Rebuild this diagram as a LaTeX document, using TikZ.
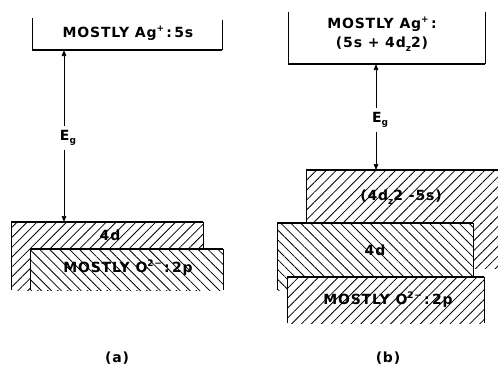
\documentclass[tikz,border=0pt]{standalone}
\usepackage{fontspec}
\setmainfont{DejaVu Sans}[LetterSpace=6]
\usetikzlibrary{patterns.meta,arrows.meta}
\newcommand{\mysup}[1]{\raisebox{0.8ex}{\fontsize{9}{10}\selectfont\bfseries #1}}
\newcommand{\mysub}[1]{\raisebox{-0.45ex}{\fontsize{9}{10}\selectfont\bfseries #1}}
\begin{document}
\begin{tikzpicture}[x=1pt,y=-1pt,
  lbl/.style={font=\fontsize{14}{19}\selectfont\bfseries, inner sep=0pt, align=center},
  toplinestyle/.style={line width=1.6pt},
  sidestyle/.style={line width=0.7pt},
  hne/.style={pattern={Lines[angle=45,distance=7pt,line width=0.8pt]}},
  hnw/.style={pattern={Lines[angle=-45,distance=7pt,line width=0.8pt]}},
  gaparrow/.style={-{Triangle[length=6pt,width=4.5pt]}, line width=0.7pt}]
\useasboundingbox (0,0) rectangle (498,368);

% ---------------- (a) ----------------
% top bracket
\draw[sidestyle] (32,18) -- (32,50);
\draw[sidestyle] (222,20) -- (222,50);
\draw[toplinestyle] (32,50) -- (222,50);
\node[lbl] (aAg) at (128,33) {MOSTLY Ag\mysup{+}\,:\,5s};
% 4d band
\fill[hne] (11,222) rectangle (203,290);
\draw[toplinestyle] (11,222) -- (203,222);
\draw[sidestyle] (11,222) -- (11,290);
\draw[sidestyle] (203,222) -- (203,249);
\node[lbl] (a4d) at (110,235) {4d};
% O 2p band
\fill[white] (30,249) rectangle (223,290);
\fill[hnw] (30,249) rectangle (223,290);
\draw[toplinestyle] (30,249) -- (223,249);
\draw[sidestyle] (30,249) -- (30,290);
\draw[sidestyle] (223,249) -- (223,290);
\node[lbl] (aO) at (128,268) {MOSTLY O\mysup{2−}\,:\,2p};
% gap arrow
\coordinate (aTop) at (64,50);
\coordinate (aBand) at (64,222);
\node[lbl, inner ysep=4pt] (aEg) at (68,138) {E\mysub{g}};
\draw[gaparrow] (aEg.north -| aTop) -- (aTop);
\draw[gaparrow] (aEg.south -| aBand) -- (aBand);
\node[lbl] (aLab) at (117,358) {(a)};

% ---------------- (b) ----------------
\draw[sidestyle] (288,12) -- (288,64);
\draw[sidestyle] (485,12) -- (485,64);
\draw[toplinestyle] (288,64) -- (485,64);
\node[lbl] (bAg) at (382,34) {MOSTLY Ag\mysup{+}\,:\\(5s + 4d\mysub{z}2)};
% upper band
\fill[hne] (306,170) rectangle (498,223);
\fill[hne] (473,223) rectangle (498,268);
\draw[toplinestyle] (306,170) -- (498,170);
\draw[sidestyle] (306,170) -- (306,223);
\node[lbl] (bUp) at (401,197) {(4d\mysub{z}2 -5s)};
% 4d band
\fill[white] (277,223) rectangle (473,290);
\fill[hnw] (277,223) rectangle (473,290);
\draw[toplinestyle] (277,223) -- (473,223);
\draw[sidestyle] (277,223) -- (277,290);
\draw[sidestyle] (473,223) -- (473,277);
\node[lbl] (b4d) at (375,250) {4d};
% O 2p band
\fill[white] (287,277) rectangle (484,323);
\fill[hne] (287,277) rectangle (484,323);
\draw[toplinestyle] (287,277) -- (484,277);
\draw[sidestyle] (287,277) -- (287,323);
\draw[sidestyle] (484,277) -- (484,323);
\node[lbl] (bO) at (388,300) {MOSTLY O\mysup{2−}\,:\,2p};
% gap arrow
\coordinate (bTop) at (376,64);
\coordinate (bBand) at (376,170);
\node[lbl, inner ysep=4pt] (bEg) at (380,120) {E\mysub{g}};
\draw[gaparrow] (bEg.north -| bTop) -- (bTop);
\draw[gaparrow] (bEg.south -| bBand) -- (bBand);
\node[lbl] (bLab) at (388,358) {(b)};
\end{tikzpicture}
\end{document}
